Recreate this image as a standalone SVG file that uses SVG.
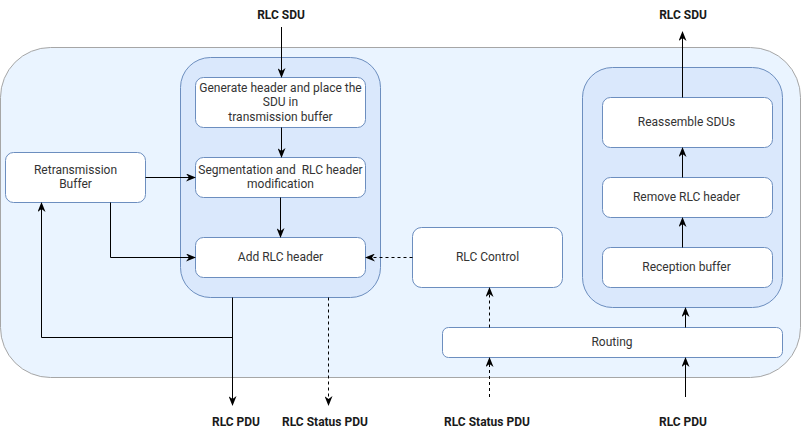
<svg xmlns="http://www.w3.org/2000/svg" width="802" height="437" viewBox="0 0 802 437">
<style>
.outer{fill:#eaf4ff;stroke:#a6a6a6;stroke-width:1}
.cont{fill:#dae8fc;stroke:#6c8ebf;stroke-width:1}
.box{fill:#ffffff;stroke:#6c8ebf;stroke-width:1}
.t{font-family:Roboto,"Liberation Sans",sans-serif;font-size:12px;fill:#333333;text-anchor:middle}
.lb{font-family:Roboto,"Liberation Sans",sans-serif;font-size:12px;font-weight:bold;fill:#1a1a1a;text-anchor:middle}
.c{fill:none;stroke:#000000;stroke-width:1}
.d{fill:none;stroke:#000000;stroke-width:1;stroke-dasharray:3 3}
</style>
<defs>
<marker id="a" viewBox="0 0 10 8" refX="9" refY="4" markerWidth="10" markerHeight="8" markerUnits="userSpaceOnUse" orient="auto">
<path d="M0,0 L10,4 L0,8 L3,4 z" fill="#000000"/>
</marker>
</defs>
<rect class="outer" x="0.5" y="47.5" width="800" height="330" rx="50" ry="50"/>
<g id="tx-container"><rect class="cont" x="180.5" y="57.5" width="200" height="240" rx="30" ry="30"/></g>
<g id="rx-container"><rect class="cont" x="582.5" y="67.5" width="200" height="240" rx="30" ry="30"/></g>
<g id="generate"><rect class="box" x="195.5" y="77.5" width="170" height="50" rx="8" ry="8"/>
<text class="t" x="280.5" y="92">Generate header and place the</text>
<text class="t" x="280.5" y="106">SDU in</text>
<text class="t" x="280.5" y="121">transmission buffer</text></g>
<g id="segmentation"><rect class="box" x="195.5" y="157.5" width="170" height="40" rx="8" ry="8"/>
<text class="t" x="280.5" y="174" xml:space="preserve">Segmentation and  RLC header</text>
<text class="t" x="280.5" y="188">modification</text></g>
<g id="addheader"><rect class="box" x="195.5" y="237.5" width="170" height="40" rx="8" ry="8"/>
<text class="t" x="280.5" y="261">Add RLC header</text></g>
<g id="retrans"><rect class="box" x="5.5" y="152.5" width="140" height="50" rx="8" ry="8"/>
<text class="t" x="75.5" y="174">Retransmission</text>
<text class="t" x="75.5" y="188">Buffer</text></g>
<g id="control"><rect class="box" x="412.5" y="227.5" width="150" height="60" rx="9" ry="9"/>
<text class="t" x="487.5" y="261">RLC Control</text></g>
<g id="reassemble"><rect class="box" x="602.5" y="97.5" width="170" height="50" rx="8" ry="8"/>
<text class="t" x="686.5" y="126">Reassemble SDUs</text></g>
<g id="remove"><rect class="box" x="602.5" y="177.5" width="170" height="40" rx="8" ry="8"/>
<text class="t" x="686.5" y="201">Remove RLC header</text></g>
<g id="reception"><rect class="box" x="602.5" y="247.5" width="170" height="40" rx="8" ry="8"/>
<text class="t" x="686.5" y="271">Reception buffer</text></g>
<g id="routing"><rect class="box" x="442.5" y="327.5" width="340" height="30" rx="6" ry="6"/>
<text class="t" x="612" y="346">Routing</text></g>
<g id="labels">
<text class="lb" x="281" y="19">RLC SDU</text>
<text class="lb" x="683" y="19">RLC SDU</text>
<text class="lb" x="236" y="426">RLC PDU</text>
<text class="lb" x="325" y="426">RLC Status PDU</text>
<text class="lb" x="487" y="426">RLC Status PDU</text>
<text class="lb" x="683" y="426">RLC PDU</text>
</g>
<g id="connectors">
<path class="c" d="M281.5,27 V77" marker-end="url(#a)"/>
<path class="c" d="M281.5,127.5 V157" marker-end="url(#a)"/>
<path class="c" d="M280.5,197.5 V237" marker-end="url(#a)"/>
<path class="c" d="M145.5,177.5 H195" marker-end="url(#a)"/>
<path class="c" d="M110.5,202.5 V257.5 H195" marker-end="url(#a)"/>
<path class="c" d="M232.5,297.5 V405" marker-end="url(#a)"/>
<path class="c" d="M232.5,337.5 H41.5 V203" marker-end="url(#a)"/>
<path class="d" d="M328.5,297.5 V405" marker-end="url(#a)"/>
<path class="d" d="M412.5,257.5 H366" marker-end="url(#a)"/>
<path class="d" d="M489.5,327.5 V288" marker-end="url(#a)"/>
<path class="d" d="M489.5,397 V358" marker-end="url(#a)"/>
<path class="c" d="M685.5,397 V358" marker-end="url(#a)"/>
<path class="c" d="M685.5,327.5 V308" marker-end="url(#a)"/>
<path class="c" d="M682.5,247.5 V218" marker-end="url(#a)"/>
<path class="c" d="M682.5,177.5 V148" marker-end="url(#a)"/>
<path class="c" d="M682.5,97.5 V32" marker-end="url(#a)"/>
</g>
</svg>
